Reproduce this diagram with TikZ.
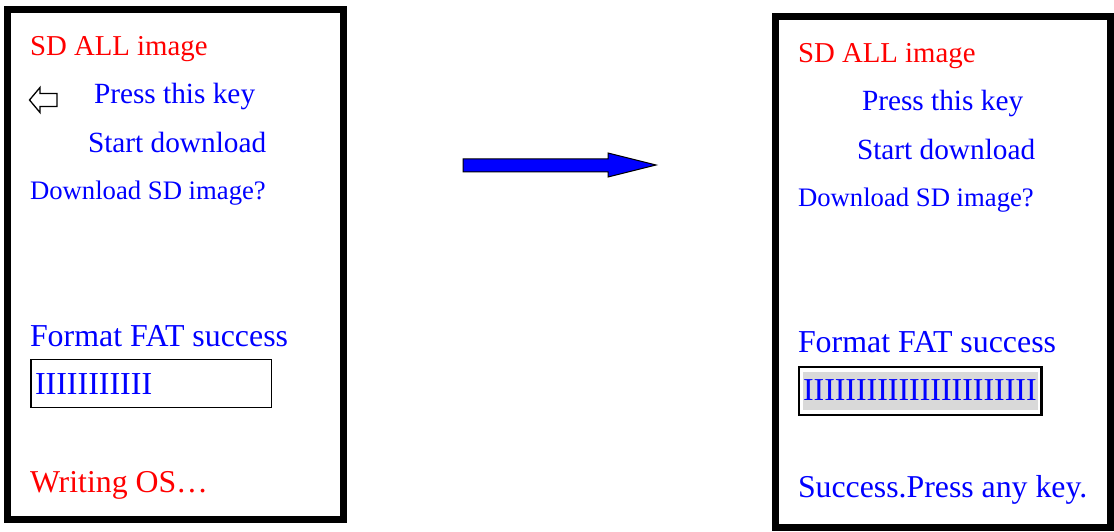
\documentclass[tikz,border=0pt]{standalone}
\usepackage{fontspec}
\setmainfont{Liberation Serif}
\definecolor{scrred}{RGB}{255,0,0}
\definecolor{scrblue}{RGB}{0,0,255}
\definecolor{bargray}{RGB}{217,217,217}
\tikzset{
  frame/.style={draw=black,line width=7pt},
  txt/.style={anchor=base west,inner sep=0pt,outer sep=0pt},
  redtxt/.style={txt,text=scrred},
  bluetxt/.style={txt,text=scrblue},
  barbox/.style={draw=black,line width=1.6pt},
}
\begin{document}
\begin{tikzpicture}[x=1pt,y=-1pt]
\useasboundingbox (0,0) rectangle (1114,532);
% ---------- left screen ----------
\draw[frame] (7.5,10) rectangle (343.5,519.5);
\node[redtxt,font=\fontsize{28.8}{30}\selectfont] (l1) at (30,56) {SD ALL image};
\draw[line width=1.3pt,line join=miter] (29.5,100) -- (40,87.5) -- (40,93.5) -- (57,93.5) -- (57,106.5) -- (40,106.5) -- (40,112.5) -- cycle;
\node[bluetxt,font=\fontsize{29.3}{30}\selectfont] (l2) at (94,104) {Press this key};
\node[bluetxt,font=\fontsize{29.3}{30}\selectfont] (l3) at (88,153) {Start download};
\node[bluetxt,font=\fontsize{26.7}{28}\selectfont] (l4) at (30,199) {Download SD image?};
\node[bluetxt,font=\fontsize{31.9}{33}\selectfont] (l5) at (30,346) {Format FAT success};
\draw[barbox] (30.7,359.5) rectangle (271.5,407.5);
\node[bluetxt,font=\fontsize{32}{33}\selectfont] (l6) at (35,394) {IIIIIIIIIII};
\node[redtxt,font=\fontsize{31.8}{33}\selectfont] (l7) at (30,492) {Writing OS…};
% ---------- arrow ----------
\draw[fill=scrblue,draw=black,line width=1pt,line join=miter] (463,159) -- (608,159) -- (608,153) -- (656,165) -- (608,177) -- (608,172) -- (463,172) -- cycle;
% ---------- right screen ----------
\draw[frame] (775,16.5) rectangle (1110.5,527);
\node[redtxt,font=\fontsize{28.8}{30}\selectfont] (r1) at (798,63) {SD ALL image};
\node[bluetxt,font=\fontsize{29.3}{30}\selectfont] (r2) at (862,111) {Press this key};
\node[bluetxt,font=\fontsize{29.3}{30}\selectfont] (r3) at (857,160) {Start download};
\node[bluetxt,font=\fontsize{26.7}{28}\selectfont] (r4) at (798,206) {Download SD image?};
\node[bluetxt,font=\fontsize{31.9}{33}\selectfont] (r5) at (798,352) {Format FAT success};
\draw[barbox,line width=2.6pt] (799,367) rectangle (1041.5,415);
\fill[bargray] (803,372) rectangle (1038,410);
\node[bluetxt,font=\fontsize{31.9}{33}\selectfont] (r6) at (803,400.5) {IIIIIIIIIIIIIIIIIIIIII};
\node[bluetxt,font=\fontsize{31.8}{33}\selectfont] (r7) at (798,497) {Success.Press any key.};
\end{tikzpicture}
\end{document}
